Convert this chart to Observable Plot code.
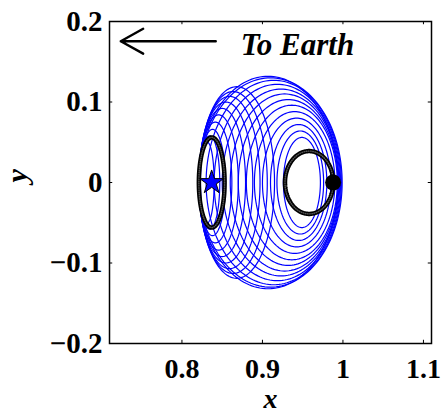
<!DOCTYPE html>
<html>
<head>
<meta charset="utf-8">
<script src="https://cdn.jsdelivr.net/npm/d3@7"></script>
<script src="https://cdn.jsdelivr.net/npm/@observablehq/plot@0.6"></script>
<style>
  body { margin: 0; background: #fff; }
  #chart svg { display: block; }
</style>
</head>
<body>
<div id="chart"></div>
<script>
// Axis ticks
const xTicks = [0.8, 0.9, 1, 1.1];
const yTicks = [-0.2, -0.1, 0, 0.1, 0.2];

// Family of planar orbits (rotating frame): left edge, right edge, half-height
const familyLeft = [
  0.823, 0.822, 0.822, 0.821, 0.821, 0.821, 0.821, 0.821, 0.821, 0.821,
  0.820, 0.821,
  0.830, 0.840, 0.850, 0.860, 0.870, 0.880, 0.890, 0.900, 0.910, 0.918, 0.926
];
const familyRight = [
  0.840, 0.847, 0.854, 0.862, 0.870, 0.879, 0.888, 0.897, 0.906, 0.915,
  0.994, 0.999,
  0.998, 0.997, 0.996, 0.995, 0.994, 0.993, 0.990, 0.985, 0.980, 0.976, 0.972
];
const familyHalfHeight = [
  0.050, 0.058, 0.066, 0.075, 0.084, 0.092, 0.100, 0.107, 0.113, 0.119,
  0.132, 0.130,
  0.127, 0.122, 0.116, 0.110, 0.103, 0.096, 0.088, 0.080, 0.072, 0.064, 0.056
];

// Boundary orbits: L1 orbit and the orbit around the Moon
const boundaryCx = [0.837, 0.958];
const boundaryA = [0.016, 0.030];
const boundaryB = [0.056, 0.039];

// Libration point L1 and the Moon
const l1Point = [{x: 0.8369, y: 0}];
const moonPoint = [{x: 0.9878, y: 0}];

// Direction annotation
const arrowFrom = [0.842, 0.1755];
const arrowTo = [0.724, 0.1755];
const arrowText = "To Earth";
const textAt = [0.873, 0.158];

const xDomain = [0.71, 1.11];
const yDomain = [-0.2, 0.2];

function ellipse(cx, a, b, id, n = 160) {
  return d3.range(n + 1).map(k => {
    const t = (2 * Math.PI * k) / n;
    return {id, x: cx + a * Math.cos(t), y: b * Math.sin(t)};
  });
}

const familyPts = familyLeft.flatMap((L, i) =>
  ellipse((L + familyRight[i]) / 2, (familyRight[i] - L) / 2, familyHalfHeight[i], i));
const boundaryPts = boundaryCx.flatMap((cx, i) =>
  ellipse(cx, boundaryA[i], boundaryB[i], i, 200));

const tx = 0.004, ty = 0.004; // inward tick length (data units)
const serif = "'Liberation Serif', 'Times New Roman', serif";
const fmt = d3.format("~g");

const chart = Plot.plot({
  width: 446,
  height: 418,
  marginLeft: 109,
  marginRight: 15,
  marginTop: 21,
  marginBottom: 75,
  x: {domain: xDomain},
  y: {domain: yDomain},
  style: {fontFamily: serif, fontSize: "29px", fontWeight: "bold", background: "#fff", color: "#000"},
  marks: [
    Plot.line(familyPts, {x: "x", y: "y", z: "id", stroke: "#0000ff", strokeWidth: 1.2}),
    Plot.line(boundaryPts, {x: "x", y: "y", z: "id", stroke: "#000", strokeWidth: 4.5}),
    Plot.line(boundaryPts, {x: "x", y: "y", z: "id", stroke: "#555", strokeWidth: 1.4, strokeDasharray: "0.6 1.6"}),
    Plot.dot(l1Point, {x: "x", y: "y", symbol: "star", r: 7.5, fill: "#0000ff", stroke: "#000", strokeWidth: 1}),
    Plot.dot(moonPoint, {x: "x", y: "y", r: 8, fill: "#000"}),
    Plot.arrow([0], {x1: () => arrowFrom[0], y1: () => arrowFrom[1], x2: () => arrowTo[0], y2: () => arrowTo[1],
      stroke: "#000", strokeWidth: 2.4, headLength: 16, headAngle: 58}),
    Plot.text([arrowText], {x: textAt[0], y: textAt[1], text: d => d, textAnchor: "start", lineAnchor: "bottom",
      fontStyle: "italic", fontWeight: "bold", fontSize: 31}),
    // inward ticks on all four sides
    Plot.ruleX(xTicks, {x: d => d, y1: yDomain[0], y2: yDomain[0] + ty, stroke: "#000", strokeWidth: 1}),
    Plot.ruleX(xTicks, {x: d => d, y1: yDomain[1], y2: yDomain[1] - ty, stroke: "#000", strokeWidth: 1}),
    Plot.ruleY(yTicks, {y: d => d, x1: xDomain[0], x2: xDomain[0] + tx, stroke: "#000", strokeWidth: 1}),
    Plot.ruleY(yTicks, {y: d => d, x1: xDomain[1], x2: xDomain[1] - tx, stroke: "#000", strokeWidth: 1}),
    Plot.axisX({ticks: xTicks, tickSize: 0, tickPadding: 15, tickFormat: fmt, label: null, fontSize: 28}),
    Plot.axisY({ticks: yTicks, tickSize: 0, tickPadding: 7, tickFormat: fmt, label: null, fontSize: 29}),
    Plot.text(["x"], {frameAnchor: "bottom", dy: 64, text: d => d, fontStyle: "italic", fontWeight: "bold", fontSize: 28}),
    Plot.text(["y"], {frameAnchor: "left", dx: -92, rotate: -90, text: d => d, fontStyle: "italic", fontWeight: "bold", fontSize: 30}),
    Plot.frame({stroke: "#000", strokeWidth: 1.5})
  ]
});

document.getElementById("chart").appendChild(chart);
</script>
</body>
</html>
